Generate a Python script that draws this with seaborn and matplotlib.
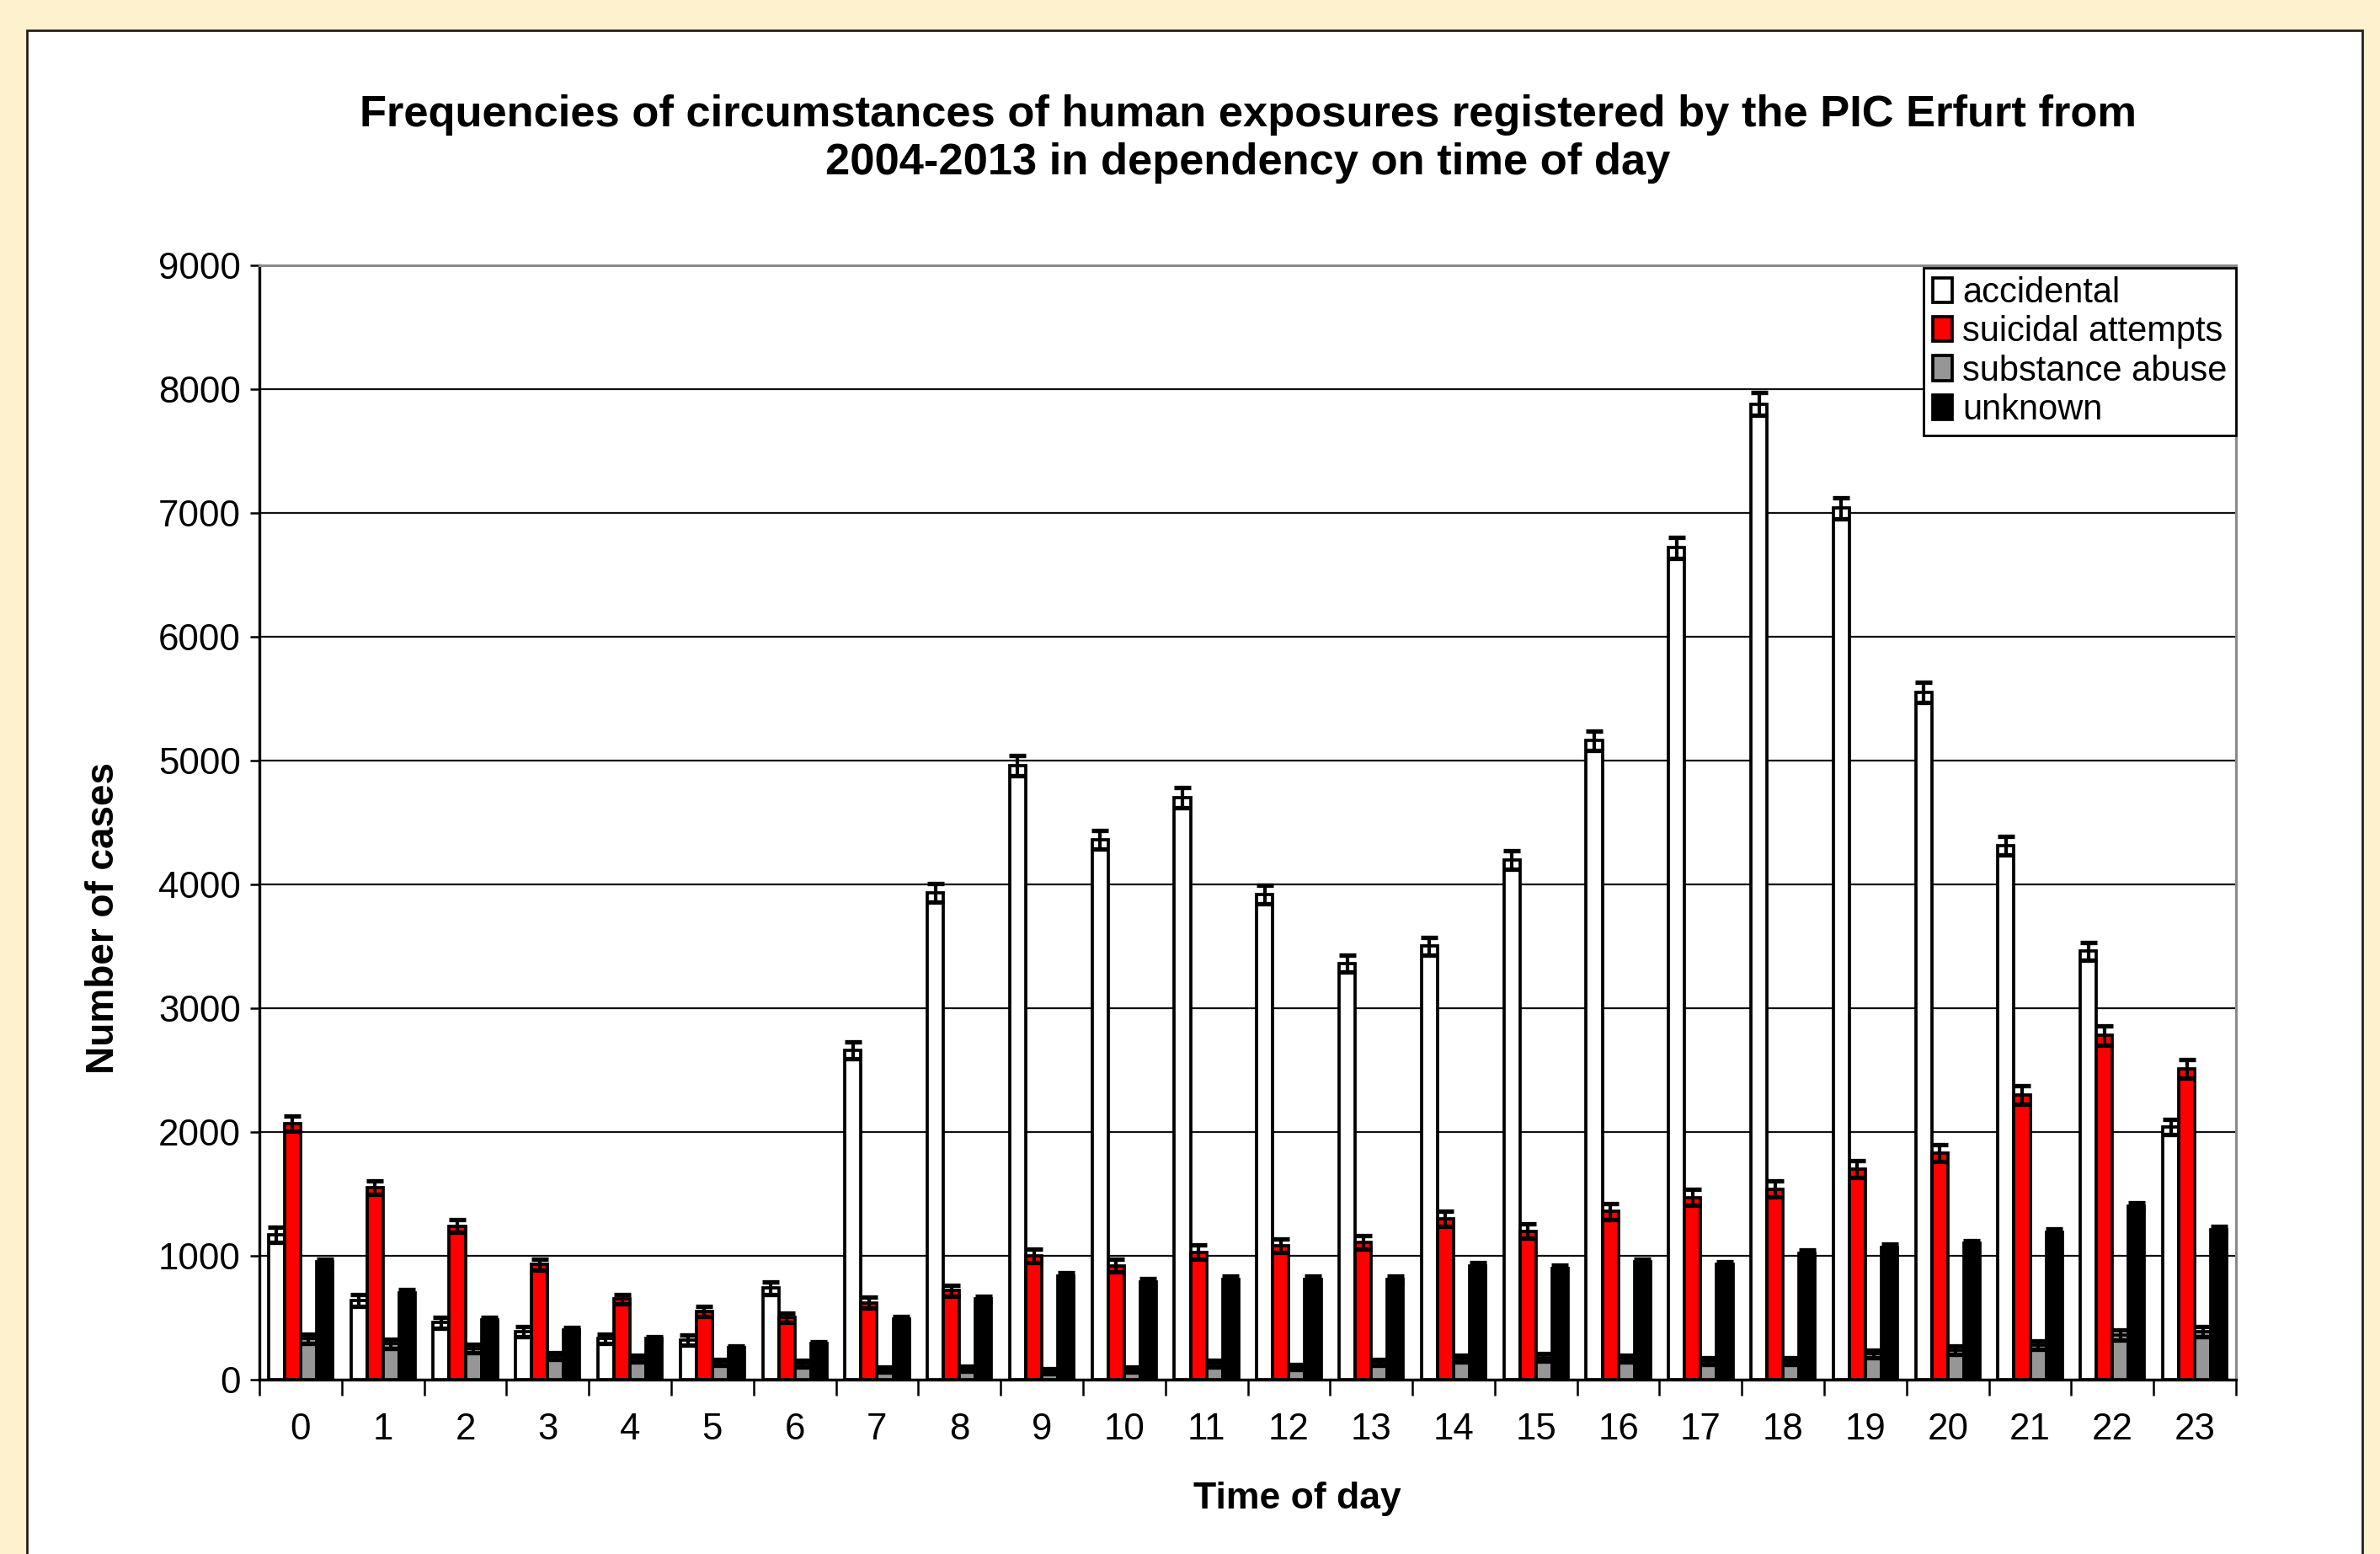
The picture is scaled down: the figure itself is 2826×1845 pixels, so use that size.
import numpy as np
import pandas as pd
import matplotlib
matplotlib.use("Agg")
import matplotlib.pyplot as plt
from matplotlib.patches import Rectangle
import seaborn as sns

hours = list(range(24))
categories = ["accidental", "suicidal attempts", "substance abuse", "unknown"]

accidental = [1170, 640, 460, 390, 330, 320, 740, 2660, 3930, 4960, 4360, 4700,
              3920, 3360, 3500, 4200, 5160, 6720, 7880, 7040, 5550, 4310, 3460, 2040]
suicidal = [2070, 1550, 1240, 930, 650, 550, 500, 620, 720, 1000, 920, 1030,
            1080, 1110, 1300, 1200, 1360, 1470, 1540, 1700, 1830, 2300, 2780, 2510]
substance = [330, 290, 250, 190, 170, 140, 130, 80, 90, 70, 80, 130,
             100, 140, 170, 180, 170, 150, 150, 210, 240, 280, 360, 390]
unknown = [950, 700, 480, 400, 330, 260, 290, 490, 650, 840, 790, 810,
           810, 810, 920, 900, 950, 930, 1020, 1070, 1100, 1190, 1400, 1210]

err_accidental = [60, 50, 45, 40, 40, 40, 50, 70, 75, 80, 75, 80,
                  75, 70, 70, 75, 80, 85, 90, 85, 80, 75, 70, 60]
err_suicidal = [60, 55, 50, 45, 40, 40, 40, 45, 45, 55, 50, 55,
                55, 55, 60, 60, 65, 65, 65, 70, 70, 75, 80, 75]
err_substance = [40, 35, 35, 30, 30, 25, 25, 20, 20, 20, 20, 25,
                 20, 25, 25, 30, 30, 25, 25, 30, 35, 35, 40, 40]
err_unknown = [25, 25, 20, 20, 20, 15, 15, 20, 20, 25, 25, 25,
               25, 25, 25, 25, 25, 25, 25, 25, 25, 30, 30, 30]

colors = ["#FFFFFF", "#FF0000", "#969696", "#000000"]

df = pd.DataFrame({
    "hour": hours * 4,
    "category": sum([[c] * 24 for c in categories], []),
    "cases": accidental + suicidal + substance + unknown,
})
errors = [err_accidental, err_suicidal, err_substance, err_unknown]

sns.set_style("white")
plt.rcParams["font.family"] = ["Liberation Sans", "DejaVu Sans"]
plt.rcParams["text.color"] = "black"
plt.rcParams["axes.labelcolor"] = "black"
plt.rcParams["xtick.color"] = "black"
plt.rcParams["ytick.color"] = "black"

fig = plt.figure(figsize=(14.13, 9.225), dpi=200)
fig.patch.set_facecolor("#FEF1CD")
panel = Rectangle((0.0113, -0.05), 0.9813, 1.0305, transform=fig.transFigure,
                  facecolor="white", edgecolor="#222222", linewidth=1.0, zorder=-10)
fig.add_artist(panel)

ax = fig.add_axes([0.109, 0.1122, 0.8305, 0.7171])
ax.set_facecolor("white")

sns.barplot(data=df, x="hour", y="cases", hue="category", hue_order=categories,
            palette=colors, saturation=1, edgecolor="black", linewidth=1.35,
            width=0.78, errorbar=None, ax=ax, zorder=3)

for cont, err in zip(ax.containers, errors):
    xs = [p.get_x() + p.get_width() / 2 for p in cont.patches]
    ys = [p.get_height() for p in cont.patches]
    ax.errorbar(xs, ys, yerr=err, fmt="none", ecolor="black",
                elinewidth=1.5, capsize=3.6, capthick=1.9, zorder=4)

ax.set_ylim(0, 9000)
ax.set_xlim(-0.5, 23.5)
ax.set_yticks(range(0, 9001, 1000))
ax.yaxis.grid(True, color="#111111", linewidth=0.8, zorder=0)
ax.set_axisbelow(True)

ax.set_xticks(hours)
ax.set_xticklabels([str(h) for h in hours])
ax.set_xticks(np.arange(-0.5, 24, 1), minor=True)
ax.tick_params(axis="x", which="major", length=0, pad=14, labelsize=15.8)
ax.tick_params(axis="x", which="minor", length=7, width=0.9, color="black",
               direction="out", bottom=True)
ax.tick_params(axis="y", length=4, width=0.9, color="black", direction="out",
               left=True, pad=4, labelsize=15.8)

for side in ["left", "bottom"]:
    ax.spines[side].set_color("black")
    ax.spines[side].set_linewidth(1.2)
for side in ["top", "right"]:
    ax.spines[side].set_color("#8A8A8A")
    ax.spines[side].set_linewidth(1.1)

ax.set_xlabel("Time of day", fontsize=16, fontweight="bold")
ax.set_ylabel("Number of cases", fontsize=16.5, fontweight="bold")
ax.xaxis.set_label_coords(0.525, -0.107)
ax.yaxis.set_label_coords(-0.079, 0.414)
ax.xaxis.label.set_va("center")
ax.yaxis.label.set_va("center")

ax.set_title("Frequencies of circumstances of human exposures registered by the PIC Erfurt from\n"
             "2004-2013 in dependency on time of day",
             fontsize=18.9, fontweight="bold", pad=39, linespacing=1.2)

leg = ax.legend(loc="upper right", bbox_to_anchor=(1.0, 0.998), fontsize=15,
                frameon=True, fancybox=False, framealpha=1, edgecolor="black",
                handlelength=0.55, handleheight=0.7, handletextpad=0.3,
                labelspacing=0.15, borderpad=0.25, borderaxespad=0.0)
leg.get_frame().set_linewidth(1.0)
leg.set_zorder(10)

fig.savefig("out.png", dpi=200, facecolor=fig.get_facecolor())
